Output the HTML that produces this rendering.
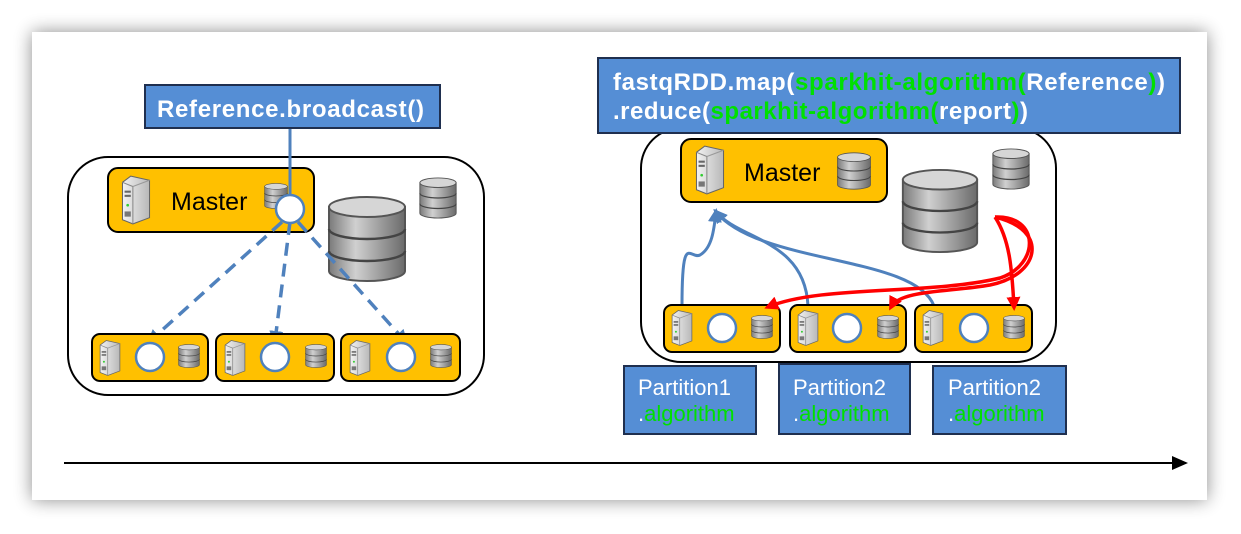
<!DOCTYPE html>
<html><head><style>
html,body{margin:0;padding:0;background:#fff;}
svg{display:block;font-family:"Liberation Sans",sans-serif;}
</style></head><body>
<svg width="1241" height="534" viewBox="0 0 1241 534" xmlns="http://www.w3.org/2000/svg">
<defs>
<filter id="sh" x="-5%" y="-10%" width="110%" height="120%"><feGaussianBlur stdDeviation="9"/></filter>
<linearGradient id="dg" x1="0" x2="1"><stop offset="0" stop-color="#7a7a7a"/><stop offset="0.35" stop-color="#d0d0d0"/><stop offset="1" stop-color="#6a6a6a"/></linearGradient>
<linearGradient id="sg" x1="0" x2="1"><stop offset="0" stop-color="#f2f2f2"/><stop offset="1" stop-color="#b8b8b8"/></linearGradient>
<symbol id="db" viewBox="0 0 40 44">
<path d="M1 6 V38 A19 5 0 0 0 39 38 V6 Z" fill="url(#dg)" stroke="#555" stroke-width="1"/>
<ellipse cx="20" cy="6" rx="19" ry="5" fill="#d6d6d6" stroke="#555"/>
<path d="M1 17 A19 5 0 0 0 39 17 M1 28 A19 5 0 0 0 39 28" fill="none" stroke="#444" stroke-width="1.2"/>
</symbol>
<symbol id="srv" viewBox="0 0 30 50">
<path d="M10 2 L28 6 L28 42 L12 48 L2 44 L2 8 Z" fill="url(#sg)" stroke="#666"/>
<path d="M2 8 L12 12 L12 48" fill="none" stroke="#888"/>
<path d="M12 12 L28 6" fill="none" stroke="#999"/>
<rect x="4" y="16" width="6" height="2" fill="#666"/><rect x="4" y="20" width="6" height="2" fill="#666"/>
<circle cx="7" cy="30" r="1.3" fill="#3c3"/>
<rect x="4" y="36" width="6" height="5" fill="#777"/>
</symbol>
<marker id="ab" markerWidth="14" markerHeight="14" refX="10" refY="7" orient="auto" markerUnits="userSpaceOnUse" viewBox="0 0 14 14"><path d="M0 0 L14 7 L0 14 Z" fill="#4f81bd"/></marker>
<marker id="ar" markerWidth="14" markerHeight="14" refX="10" refY="7" orient="auto" markerUnits="userSpaceOnUse" viewBox="0 0 14 14"><path d="M0 0 L14 7 L0 14 Z" fill="#f00"/></marker>
<marker id="ak" markerWidth="16" markerHeight="14" refX="14" refY="7" orient="auto" markerUnits="userSpaceOnUse" viewBox="0 0 16 14"><path d="M0 0 L16 7 L0 14 Z" fill="#000"/></marker>
</defs>
<rect x="32" y="32" width="1175" height="468" fill="#000" opacity="0.45" filter="url(#sh)"/>
<rect x="32" y="32" width="1175" height="468" fill="#fff"/>

<!-- LEFT -->
<rect x="68" y="157" width="416" height="238" rx="40" fill="#fff" stroke="#000" stroke-width="2"/>
<rect x="108" y="168" width="206" height="64" rx="10" fill="#ffc000" stroke="#000" stroke-width="2"/>
<use href="#srv" x="120" y="174" width="32" height="52"/>
<text x="171" y="210" font-size="25">Master</text>
<use href="#db" x="264" y="180" width="24" height="32"/>
<use href="#db" x="322" y="195" width="90" height="88"/>
<use href="#db" x="416" y="177" width="44" height="42"/>
<g stroke="#4f81bd" stroke-width="3.5" stroke-dasharray="13,8" fill="none">
<line x1="282" y1="222" x2="150" y2="341" marker-end="url(#ab)"/>
<line x1="290" y1="222" x2="275" y2="341" marker-end="url(#ab)"/>
<line x1="298" y1="222" x2="405" y2="341" marker-end="url(#ab)"/>
</g>
<line x1="290" y1="126" x2="290" y2="196" stroke="#4f81bd" stroke-width="3"/>
<circle cx="290" cy="209" r="14" fill="#fff" stroke="#4f81bd" stroke-width="2.5"/>
<rect x="145" y="85" width="295" height="43" fill="#558ed5" stroke="#1f2f4f" stroke-width="2"/>
<text x="157" y="117" font-size="24" font-weight="bold" fill="#fff" textLength="267">Reference.broadcast()</text>
<g stroke="#000" stroke-width="2" fill="#ffc000">
<rect x="92" y="334" width="116" height="47" rx="8"/>
<rect x="216" y="334" width="118" height="47" rx="8"/>
<rect x="341" y="334" width="119" height="47" rx="8"/>
</g>
<use href="#srv" x="98" y="339" width="24" height="38"/>
<use href="#srv" x="223" y="339" width="24" height="38"/>
<use href="#srv" x="348" y="339" width="24" height="38"/>
<use href="#db" x="178" y="343" width="22" height="26"/>
<use href="#db" x="305" y="343" width="22" height="26"/>
<use href="#db" x="430" y="343" width="22" height="26"/>
<g fill="#fff" stroke="#4f81bd" stroke-width="2.5">
<circle cx="150" cy="357" r="14"/><circle cx="275" cy="357" r="14"/><circle cx="401" cy="357" r="14"/>
</g>

<!-- RIGHT -->
<rect x="641" y="128" width="415" height="234" rx="40" fill="#fff" stroke="#000" stroke-width="2"/>
<rect x="598" y="58" width="582" height="75" fill="#558ed5" stroke="#1f2f4f" stroke-width="2"/>
<text x="613" y="90" font-size="24" font-weight="bold" fill="#fff" textLength="552">fastqRDD.map(<tspan fill="#00e000">sparkhit-algorithm(</tspan>Reference<tspan fill="#00e000">)</tspan>)</text>
<text x="613" y="119" font-size="24" font-weight="bold" fill="#fff" textLength="415">.reduce(<tspan fill="#00e000">sparkhit-algorithm(</tspan>report<tspan fill="#00e000">)</tspan>)</text>
<rect x="681" y="139" width="206" height="63" rx="10" fill="#ffc000" stroke="#000" stroke-width="2"/>
<use href="#srv" x="694" y="144" width="32" height="52"/>
<text x="744" y="181" font-size="25">Master</text>
<use href="#db" x="835" y="152" width="38" height="38"/>
<use href="#db" x="896" y="168" width="88" height="86"/>
<use href="#db" x="988" y="148" width="46" height="42"/>
<g stroke="#4f81bd" stroke-width="3" fill="none">
<path d="M682 306 C682 230 690 260 700 255 C712 248 714 230 716 212" marker-end="url(#ab)"/>
<path d="M808 306 C805 240 740 240 716 212" marker-end="url(#ab)"/>
<path d="M934 306 C915 255 760 265 716 212" marker-end="url(#ab)"/>
</g>
<g fill="#ffc000" stroke="#000" stroke-width="2">
<rect x="664" y="305" width="116" height="47" rx="8"/>
<rect x="790" y="305" width="116" height="47" rx="8"/>
<rect x="915" y="305" width="117" height="47" rx="8"/>
</g>
<use href="#srv" x="670" y="309" width="24" height="38"/>
<use href="#srv" x="796" y="309" width="24" height="38"/>
<use href="#srv" x="921" y="309" width="24" height="38"/>
<use href="#db" x="751" y="314" width="22" height="26"/>
<use href="#db" x="877" y="314" width="22" height="26"/>
<use href="#db" x="1003" y="314" width="22" height="26"/>
<g fill="#fff" stroke="#4f81bd" stroke-width="2.5">
<circle cx="722" cy="328" r="14"/><circle cx="847" cy="328" r="14"/><circle cx="974" cy="328" r="14"/>
</g>
<g stroke="#f00" stroke-width="3.5" fill="none">
<path d="M995 217 C1040 215 1040 265 1000 278 C930 295 820 285 768 307" marker-end="url(#ar)"/>
<path d="M995 217 C1050 230 1040 275 990 285 C950 292 900 290 891 307" marker-end="url(#ar)"/>
<path d="M995 217 C1010 240 1012 270 1014 307" marker-end="url(#ar)"/>
</g>
<g fill="#558ed5" stroke="#1f2f4f" stroke-width="2">
<rect x="624" y="366" width="132" height="68"/>
<rect x="779" y="364" width="131" height="70"/>
<rect x="933" y="366" width="133" height="68"/>
</g>
<g font-size="22" fill="#fff">
<text x="638" y="395">Partition1</text><text x="638" y="421">.<tspan fill="#00e000">algorithm</tspan></text>
<text x="793" y="395">Partition2</text><text x="793" y="421">.<tspan fill="#00e000">algorithm</tspan></text>
<text x="948" y="395">Partition2</text><text x="948" y="421">.<tspan fill="#00e000">algorithm</tspan></text>
</g>

<line x1="64" y1="463" x2="1186" y2="463" stroke="#000" stroke-width="2" marker-end="url(#ak)"/>
</svg>
</body></html>
